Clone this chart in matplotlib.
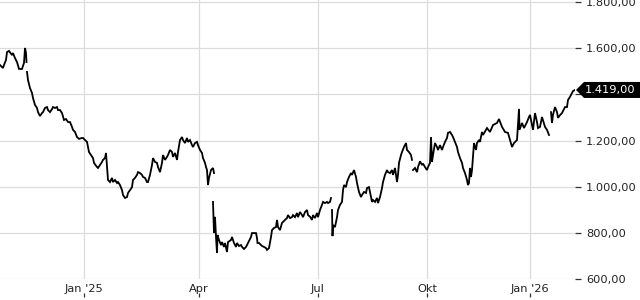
import numpy as np
import matplotlib
matplotlib.use('Agg')
import matplotlib.pyplot as plt
from matplotlib.patches import Polygon

GAP = np.nan

# session index (trading time axis) and closing prices
t = [0, 3, 4, 6, 7, 9, 12, 13, 15, 17, 19, 22, 24, 25, 26, 26.5, GAP,
     27, 28, 30, 32, 33, 35, 37, 38, 40, 42, 43, 45, 47, 48, 50, 52, 53, 55, 57, 58,
     60, 62, 64, 66, 68, 70, 72, 73, 75, 77, 79, 82, 83, 85, 87, 88, 89, 91, 93, 94,
     97, 98, 100, 102, 103, 105, 106, 107, 108, 110, 112, 113, 115, 117, 118, 120,
     122, 123, 125, 127, 128, 130, 132, 133, 135, 137, 138, 140, 142, 143, 145, 147,
     148, 150, 152, 153, 155, 157, 158, 160, 162, 163, 165, 167, 168, 170, 172, 173,
     175, 177, 178, 180, 182, 183, 185, 187, 188, 190, 192, 193, 195, 197, 198, 200,
     202, 203, 205, 206, 207, 208, 209, 211, 213, 214, GAP,
     213, 214, 215, 216, 217, 217.5, 219, 221, 222, 224, 225, 227, 228, 231, 232, 234,
     236, 237, 239, 241, 242, 244, 246, 247, 249, 251, 252, 254, 256, 257, 257.5, 259,
     261, 262, 264, 266, 267, 269, 271, 272, 274, 276, 277, 278, 280, 282, 283, 285,
     287, 288, 290, 292, 293, 295, 297, 298, 300, 302, 303, 305, 307, 308, 310, 312,
     313, 315, 317, 318, 320, 322, 323, 325, 327, 328, 330, 331, GAP,
     332, 332.5, 333, 335, 337, 338, 340, 342, 343, 344, 346, 347, 349, 351, 352, 354,
     356, 357, 359, 361, 362, 364, 366, 367, 369, 370, 372, 373, 375, 377, 378, 380,
     382, 383, 385, 387, 388, 390, 392, 393, 395, 397, 398, 399, 401, 402, 404, 406,
     407, 409, 411, 412, GAP,
     413, 415, 417, 418, 420, 422, 423, 425, 427, 428, 430, 431, 432, 433, 435, 437,
     438, 440, 442, 443, 445, 447, 448, 450, 452, 453, 455, 457, 458, 460, 462, 463,
     465, 467, 468, 469, 470, 471, 472, 473, 474, 476, 477, 479, 480, 482, 483, 487,
     490, 493, 497, 499, 502, 505, 508, 512, 514, 517, 519, 519.5, 522, 524, 527, 529,
     530, 533, 535, 537, 538, 540, 542, 545, 547, 549, GAP,
     551, 552, 553, 555, 557, 558, 560, 562, 565, 567, 568, 570, 572, 573, 575]

price = [1527, 1514, 1527, 1549, 1583, 1588, 1570, 1579, 1557, 1540, 1510, 1510, 1536, 1601, 1579, 1540, GAP,
         1497, 1462, 1427, 1406, 1384, 1354, 1341, 1323, 1306, 1319, 1323, 1341, 1345, 1332, 1323, 1336, 1345, 1341, 1345, 1332,
         1332, 1319, 1289, 1293, 1280, 1280, 1259, 1246, 1237, 1215, 1207, 1211, 1211, 1202, 1194, 1172, 1150, 1137, 1124, 1103,
         1085, 1081, 1094, 1107, 1116, 1124, 1146, 1085, 1029, 1020, 1038, 1020, 1029, 1016, 1020, 1007,
         985, 964, 951, 955, 973, 985, 998, 1029, 1038, 1051, 1063, 1059, 1051, 1042, 1038, 1020,
         1020, 1051, 1094, 1124, 1107, 1103, 1085, 1063, 1103, 1137, 1116, 1129, 1137, 1159, 1150, 1129,
         1146, 1116, 1150, 1202, 1215, 1202, 1189, 1211, 1194, 1202, 1180, 1172, 1189, 1194, 1180, 1159,
         1146, 1124, 1103, 1085, 1072, 1007, 1038, 1072, 1081, 1059, GAP,
         934, 799, 869, 782, 713, 791, 769, 747, 760, 739, 756, 717, 760, 769, 782, 756,
         739, 756, 743, 747, 739, 730, 739, 747, 765, 782, 799, 799, 799, 778, 756, 756,
         747, 743, 739, 734, 726, 734, 782, 812, 821, 825, 856, 825, 812, 843, 847, 856,
         864, 877, 864, 868, 877, 868, 886, 868, 890, 877, 868, 890, 899, 877, 870, 856,
         877, 864, 886, 868, 899, 921, 934, 929, 934, 929, 934, 951, GAP,
         899, 786, 834, 825, 868, 899, 921, 934, 985, 1007, 998, 1020, 1042, 1059, 1051, 1072,
         1042, 1016, 977, 955, 964, 977, 973, 994, 998, 977, 934, 942, 934, 951, 929, 955,
         994, 1020, 1051, 1072, 1063, 1059, 1072, 1051, 1081, 1020, 1051, 1103, 1137, 1150, 1172, 1189,
         1159, 1150, 1137, 1116, GAP,
         1072, 1081, 1063, 1085, 1110, 1094, 1100, 1085, 1072, 1085, 1103, 1215, 1107, 1137, 1189, 1172,
         1159, 1180, 1159, 1172, 1194, 1211, 1233, 1237, 1224, 1215, 1194, 1172, 1150, 1124, 1103, 1081,
         1059, 1029, 1007, 1016, 1081, 1042, 1072, 1129, 1189, 1159, 1189, 1202, 1194, 1237, 1224, 1254,
         1237, 1267, 1276, 1293, 1259, 1237, 1233, 1172, 1189, 1202, 1337, 1246, 1276, 1254, 1280, 1302,
         1311, 1246, 1319, 1280, 1254, 1259, 1302, 1259, 1246, 1224, GAP,
         1323, 1276, 1311, 1345, 1323, 1298, 1310, 1319, 1345, 1345, 1376, 1389, 1406, 1414, 1419]

month_ticks = [84, 199, 318, 427, 530]
month_labels = ["Jan '25", "Apr", "Jul", "Okt", "Jan '26"]
y_ticks = [600, 800, 1000, 1200, 1400, 1600, 1800]
last_price = 1419


def de_fmt(v):
    return f"{v:,.2f}".replace(",", "X").replace(".", ",").replace("X", ".")


fig = plt.figure(figsize=(6.4, 3.0), dpi=100)
ax = fig.add_axes([0, 21 / 300, 575 / 640, 279 / 300])

ax.plot(t, price, color='black', lw=1.3, solid_joinstyle='miter')

ax.set_xlim(0, 575)
ax.set_ylim(600, 1808.7)

# the 1.400 label sits under the last-price tag, so it is left blank
ax.set_yticks(y_ticks)
ax.set_yticklabels([de_fmt(v) if v != 1400 else '' for v in y_ticks])
ax.yaxis.tick_right()
ax.tick_params(axis='y', length=4.3, width=0.9, pad=3.6, color='#333333',
               labelsize=8.2, labelcolor='#222222')

ax.set_xticks(month_ticks)
ax.set_xticklabels(month_labels)
ax.tick_params(axis='x', length=0, pad=3.5, labelsize=8.2, labelcolor='#222222')

ax.grid(True, color='#dcdcdc', lw=0.9)
ax.set_axisbelow(True)
for s in ax.spines.values():
    s.set_visible(False)

# small tick marks under the month labels
sec = ax.secondary_xaxis(-18 / 279)
sec.set_xticks(month_ticks)
sec.set_xticklabels([])
sec.tick_params(length=3, width=0.9, direction='in', color='#333333')
sec.spines['bottom'].set_visible(False)

# last price tag
fig.canvas.draw()
x0, y0 = ax.transData.transform((t[-1], last_price))
h = 8
tag = Polygon([(x0 + 1, y0), (x0 + 1 + h, y0 + h), (640, y0 + h), (640, y0 - h),
               (x0 + 1 + h, y0 - h)], closed=True, transform=None,
              facecolor='black', edgecolor='none')
fig.add_artist(tag)
fig.text((x0 + 10) / 640, y0 / 300, de_fmt(last_price), color='white',
         fontsize=8.2, va='center', ha='left')

fig.savefig('out.png', dpi=100)
